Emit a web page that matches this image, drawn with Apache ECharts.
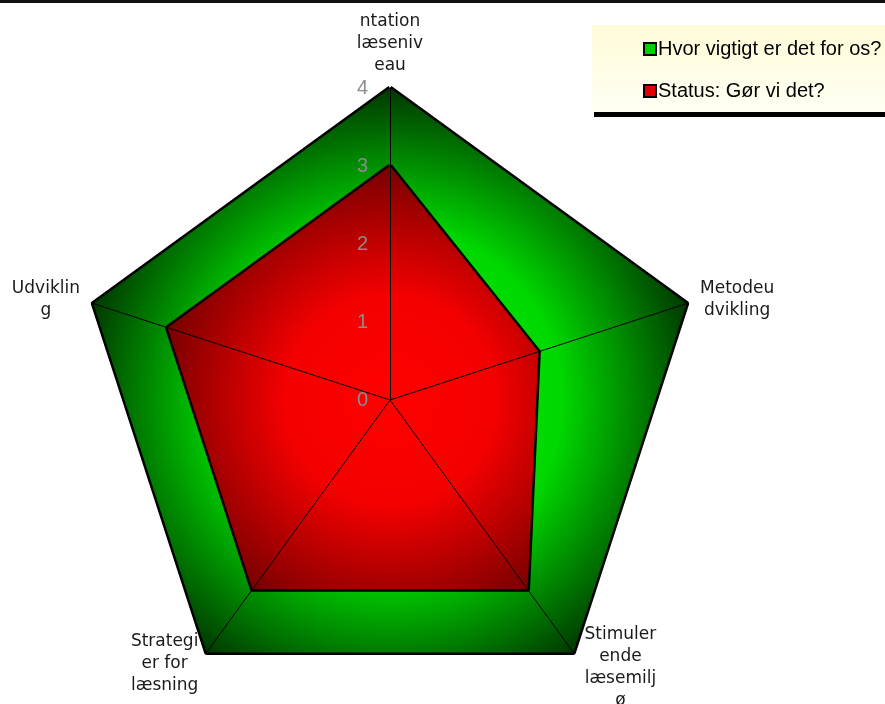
<!DOCTYPE html>
<html>
<head>
<meta charset="utf-8">
<script src="https://cdn.jsdelivr.net/npm/echarts@6/dist/echarts.min.js"></script>
<style>
html, body { margin: 0; padding: 0; background: #fff; }
#chart { width: 885px; height: 704px; }
</style>
</head>
<body>
<div id="chart"></div>
<script>
// indicators listed counter-clockwise from the top (ECharts order)
const indicatorNames = ['ntation\nlæseniv\neau', 'Udviklin\ng', 'Strategi\ner for\nlæsning', 'Stimuler\nende\nlæsemilj\nø', 'Metodeu\ndvikling'];
const indicatorMax = 4;
const seriesNames = ['Hvor vigtigt er det for os?', 'Status: Gør vi det?'];
const importanceValues = [4, 4, 4, 4, 4];
const statusValues = [3, 3, 3, 3, 2];

const nameGaps = [11, 14, 14, 19, 14];

const greenFill = new echarts.graphic.RadialGradient(0.5, 0.553, 0.553, [
    { offset: 0, color: '#00f000' },
    { offset: 0.55, color: '#00d800' },
    { offset: 1, color: '#003800' }
]);
const redFill = new echarts.graphic.RadialGradient(0.6, 0.553, 0.63, [
    { offset: 0, color: '#ff0000' },
    { offset: 0.45, color: '#f40000' },
    { offset: 1, color: '#780000' }
]);

const chart = echarts.init(document.getElementById('chart'));

const option = {
    animation: false,
    legend: {
        orient: 'vertical',
        left: 643,
        top: 39,
        padding: 0,
        itemWidth: 12,
        itemHeight: 12,
        itemGap: 22,
        textStyle: {
            fontFamily: 'Liberation Sans',
            fontSize: 20,
            color: '#000',
            padding: [0, 0, 0, -3]
        },
        data: [
            { name: seriesNames[0], icon: 'rect', itemStyle: { color: '#00d000', borderColor: '#000', borderWidth: 2 } },
            { name: seriesNames[1], icon: 'rect', itemStyle: { color: '#e00000', borderColor: '#000', borderWidth: 2 } }
        ]
    },
    radar: {
        z: 3,
        center: [390, 400],
        radius: 312,
        shape: 'polygon',
        splitNumber: 4,
        axisName: {
            color: '#1a1a1a',
            fontFamily: 'DejaVu Sans',
            fontSize: 17,
            lineHeight: 22,
            formatter: function (name) {
                return name.split('\n').map(s => '{c|' + s + '}').join('\n');
            },
            rich: {
                c: { align: 'center', fontFamily: 'DejaVu Sans', fontSize: 17, lineHeight: 22, color: '#1a1a1a' }
            }
        },
        axisLine: { lineStyle: { color: '#000', width: 1 } },
        axisTick: { show: false },
        splitLine: { show: false },
        splitArea: { show: false },
        indicator: indicatorNames.map((name, i) => {
            const ind = { name: name, min: 0, max: indicatorMax, nameGap: nameGaps[i] };
            if (i === 0) {
                ind.axisLabel = {
                    show: true,
                    color: '#8c8c8c',
                    fontFamily: 'Liberation Sans',
                    fontSize: 20,
                    margin: 22
                };
            } else {
                ind.axisLabel = { show: false };
            }
            return ind;
        })
    },
    series: [
        {
            type: 'radar',
            z: 2,
            symbol: 'none',
            lineStyle: { color: '#000', width: 5 },
            data: [
                {
                    name: seriesNames[0],
                    value: importanceValues,
                    lineStyle: { color: '#000', width: 5 },
                    areaStyle: { color: greenFill, opacity: 1 }
                },
                {
                    name: seriesNames[1],
                    value: statusValues,
                    lineStyle: { color: '#000', width: 5 },
                    areaStyle: { color: redFill, opacity: 1 }
                }
            ]
        }
    ],
    graphic: [
        { type: 'rect', z: 0, shape: { x: 592, y: 25, width: 293, height: 88 },
          style: { fill: new echarts.graphic.LinearGradient(0, 0, 0, 1, [
              { offset: 0, color: '#fffbd8' }, { offset: 1, color: '#fffff4' }
          ]) } },
        { type: 'rect', z: 10, shape: { x: 594, y: 112, width: 291, height: 5 }, style: { fill: '#000' } },
        { type: 'rect', z: 10, shape: { x: 0, y: 0, width: 885, height: 3 }, style: { fill: '#111' } }
    ]
};

chart.setOption(option);
</script>
</body>
</html>
